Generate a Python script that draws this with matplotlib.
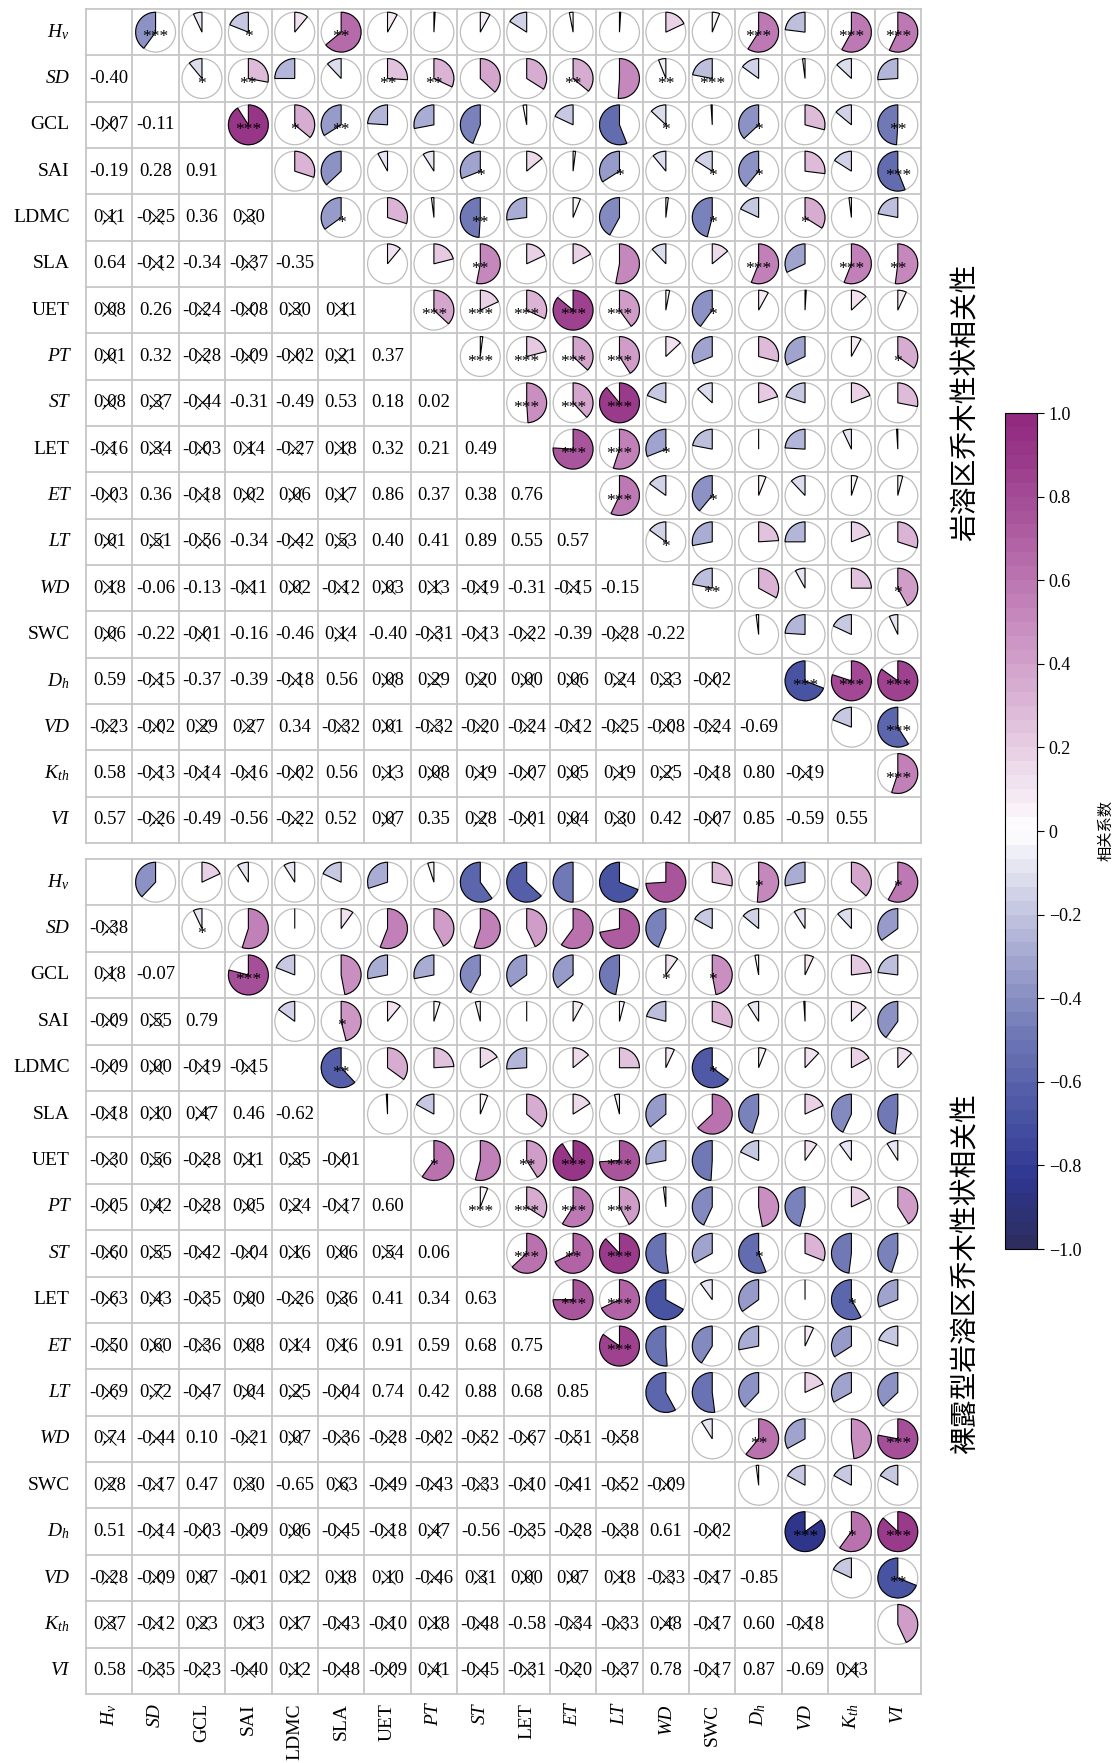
import numpy as np
import matplotlib
matplotlib.use('Agg')
import matplotlib.pyplot as plt
from matplotlib.colors import LinearSegmentedColormap, Normalize
from matplotlib.cm import ScalarMappable
from matplotlib.patches import Wedge, Circle

plt.rcParams['font.family'] = ['Liberation Serif', 'Noto Sans CJK SC']
plt.rcParams['mathtext.fontset'] = 'custom'
plt.rcParams['mathtext.rm'] = 'Liberation Serif'
plt.rcParams['mathtext.it'] = 'Liberation Serif:italic'

# 性状名称
traits = ['Hv', 'SD', 'GCL', 'SAI', 'LDMC', 'SLA', 'UET', 'PT', 'ST', 'LET',
          'ET', 'LT', 'WD', 'SWC', 'Dh', 'VD', 'Kth', 'VI']
trait_labels = {'Hv': r'$H_v$', 'Dh': r'$D_h$', 'Kth': r'$K_{th}$'}
italic_traits = ['SD', 'PT', 'ST', 'ET', 'LT', 'WD', 'VD', 'VI']

# 岩溶区 相关系数（下三角，按行）
corr_a = [
    [],
    [-0.40],
    [-0.07, -0.11],
    [-0.19, 0.28, 0.91],
    [0.11, -0.25, 0.36, 0.30],
    [0.64, -0.12, -0.34, -0.37, -0.35],
    [0.08, 0.26, -0.24, -0.08, 0.30, 0.11],
    [0.01, 0.32, -0.28, -0.09, -0.02, 0.21, 0.37],
    [0.08, 0.37, -0.44, -0.31, -0.49, 0.53, 0.18, 0.02],
    [-0.16, 0.34, -0.03, 0.14, -0.27, 0.18, 0.32, 0.21, 0.49],
    [-0.03, 0.36, -0.18, 0.02, 0.06, 0.17, 0.86, 0.37, 0.38, 0.76],
    [0.01, 0.51, -0.56, -0.34, -0.42, 0.53, 0.40, 0.41, 0.89, 0.55, 0.57],
    [0.18, -0.06, -0.13, -0.11, 0.02, -0.12, 0.03, 0.13, -0.19, -0.31, -0.15, -0.15],
    [0.06, -0.22, -0.01, -0.16, -0.46, 0.14, -0.40, -0.31, -0.13, -0.22, -0.39, -0.28, -0.22],
    [0.59, -0.15, -0.37, -0.39, -0.18, 0.56, 0.08, 0.29, 0.20, 0.00, 0.06, 0.24, 0.33, -0.02],
    [-0.23, -0.02, 0.29, 0.27, 0.34, -0.32, 0.01, -0.32, -0.20, -0.24, -0.12, -0.25, -0.08, -0.24, -0.69],
    [0.58, -0.13, -0.14, -0.16, -0.02, 0.56, 0.13, 0.08, 0.19, -0.07, 0.05, 0.19, 0.25, -0.18, 0.80, -0.19],
    [0.57, -0.26, -0.49, -0.56, -0.22, 0.52, 0.07, 0.35, 0.28, -0.01, 0.04, 0.30, 0.42, -0.07, 0.85, -0.59, 0.55],
]

# 岩溶区 显著性（上三角，按行，第 i 行对应列 i+1..17）
stars_a = [
    ['***', '', '*', '', '**', '', '', '', '', '', '', '', '', '***', '', '***', '***'],
    ['*', '**', '', '', '**', '**', '', '', '**', '', '**', '***', '', '', '', ''],
    ['***', '*', '**', '', '', '', '', '', '', '*', '', '*', '', '', '**'],
    ['', '', '', '', '*', '', '', '*', '', '*', '*', '', '', '***'],
    ['*', '', '', '**', '', '', '', '', '*', '', '*', '', ''],
    ['', '', '**', '', '', '', '', '', '***', '', '***', '**'],
    ['***', '***', '***', '***', '***', '', '*', '', '', '', ''],
    ['***', '***', '***', '***', '', '', '', '', '', '*'],
    ['***', '***', '***', '', '', '', '', '', ''],
    ['***', '***', '*', '', '', '', '', ''],
    ['***', '', '*', '', '', '', ''],
    ['*', '', '', '', '', ''],
    ['**', '', '', '', '*'],
    ['', '', '', ''],
    ['***', '***', '***'],
    ['', '***'],
    ['***'],
]

# 裸露型岩溶区 相关系数（下三角，按行）
corr_b = [
    [],
    [-0.38],
    [0.18, -0.07],
    [-0.09, 0.55, 0.79],
    [-0.09, 0.00, -0.19, -0.15],
    [-0.18, 0.10, 0.47, 0.46, -0.62],
    [-0.30, 0.56, -0.28, 0.11, 0.35, -0.01],
    [-0.05, 0.42, -0.28, 0.05, 0.24, -0.17, 0.60],
    [-0.60, 0.55, -0.42, -0.04, 0.16, 0.06, 0.54, 0.06],
    [-0.63, 0.43, -0.35, 0.00, -0.26, 0.36, 0.41, 0.34, 0.63],
    [-0.50, 0.60, -0.36, 0.08, 0.14, 0.16, 0.91, 0.59, 0.68, 0.75],
    [-0.69, 0.72, -0.47, 0.04, 0.25, -0.04, 0.74, 0.42, 0.88, 0.68, 0.85],
    [0.74, -0.44, 0.10, -0.21, 0.07, -0.36, -0.28, -0.02, -0.52, -0.67, -0.51, -0.58],
    [0.28, -0.17, 0.47, 0.30, -0.65, 0.63, -0.49, -0.43, -0.33, -0.10, -0.41, -0.52, -0.09],
    [0.51, -0.14, -0.03, -0.09, 0.06, -0.45, -0.18, 0.47, -0.56, -0.35, -0.28, -0.38, 0.61, -0.02],
    [-0.28, -0.09, 0.07, -0.01, 0.12, 0.18, 0.10, -0.46, 0.31, 0.00, 0.07, 0.18, -0.33, -0.17, -0.85],
    [0.37, -0.12, 0.23, 0.13, 0.17, -0.43, -0.10, 0.18, -0.48, -0.58, -0.34, -0.33, 0.48, -0.17, 0.60, -0.18],
    [0.58, -0.35, -0.23, -0.40, 0.12, -0.48, -0.09, 0.41, -0.45, -0.31, -0.20, -0.37, 0.78, -0.17, 0.87, -0.69, 0.43],
]

# 裸露型岩溶区 显著性（上三角）
stars_b = [
    ['', '', '', '', '', '', '', '', '', '', '', '', '', '*', '', '', '*'],
    ['*', '', '', '', '', '', '', '', '', '', '', '', '', '', '', ''],
    ['***', '', '', '', '', '', '', '', '', '*', '*', '', '', '', ''],
    ['', '*', '', '', '', '', '', '', '', '', '', '', '', ''],
    ['**', '', '', '', '', '', '', '', '*', '', '', '', ''],
    ['', '', '', '', '', '', '', '', '', '', '', ''],
    ['*', '', '**', '***', '***', '', '', '', '', '', ''],
    ['***', '***', '***', '***', '', '', '', '', '', ''],
    ['***', '**', '***', '', '', '*', '', '', ''],
    ['***', '***', '', '', '', '', '*', ''],
    ['***', '', '', '', '', '', ''],
    ['', '', '', '', '', ''],
    ['', '**', '', '', '***'],
    ['', '', '', ''],
    ['***', '*', '***'],
    ['', '**'],
    [''],
]

panel_titles = ['岩溶区乔木性状相关性', '裸露型岩溶区乔木性状相关性']
cbar_ticks = [-1.0, -0.8, -0.6, -0.4, -0.2, 0.0, 0.2, 0.4, 0.6, 0.8, 1.0]
cbar_ticklabels = ['\u22121.0', '\u22120.8', '\u22120.6', '\u22120.4', '\u22120.2', '0',
                   '0.2', '0.4', '0.6', '0.8', '1.0']
cbar_label = '相关系数'

# 配色
cmap = LinearSegmentedColormap.from_list('corr', [
    (0.000, '#2D2E5F'), (0.075, '#2E3690'), (0.15, '#4752A2'), (0.25, '#6E77B5'),
    (0.35, '#A5A9D1'), (0.45, '#E0E1EF'), (0.50, '#FFFFFF'), (0.55, '#F3E6F1'),
    (0.65, '#DDB8D7'), (0.75, '#C88DC0'), (0.85, '#B062A4'), (0.95, '#9A3A8B'),
    (1.000, '#922A80')], N=60)
norm = Normalize(-1, 1)

W, H = 1118, 1763
fig = plt.figure(figsize=(W / 100, H / 100), dpi=100)


def px_axes(x0, y0, x1, y1):
    return fig.add_axes([x0 / W, 1 - y1 / H, (x1 - x0) / W, (y1 - y0) / H])


def full_matrix(rows):
    n = len(traits)
    m = np.eye(n)
    for i, row in enumerate(rows):
        for j, v in enumerate(row):
            m[i, j] = v
            m[j, i] = v
    return m


def full_stars(rows):
    n = len(traits)
    s = [['' for _ in range(n)] for _ in range(n)]
    for i, row in enumerate(rows):
        for k, v in enumerate(row):
            j = i + 1 + k
            s[i][j] = v
            s[j][i] = v
    return s


def label_kw(name):
    if name in italic_traits:
        return dict(fontstyle='italic')
    return {}


def draw_panel(ax, rows, star_rows, col_labels):
    n = len(traits)
    m = full_matrix(rows)
    s = full_stars(star_rows)
    ax.set_xlim(0, n)
    ax.set_ylim(0, n)
    ax.axis('off')

    for k in range(n + 1):
        ax.plot([0, n], [k, k], color='#C6C6C6', lw=1.3, clip_on=False, zorder=1)
        ax.plot([k, k], [0, n], color='#C6C6C6', lw=1.3, clip_on=False, zorder=1)

    for i in range(n):
        cy = n - i - 0.5
        name = traits[i]
        ax.text(-0.35, cy, trait_labels.get(name, name), ha='right', va='center',
                fontsize=14, **label_kw(name))
        for j in range(n):
            cx = j + 0.5
            r = m[i, j]
            if i > j:
                ax.text(cx, cy, f'{r:.2f}', ha='center', va='center', fontsize=13.5, zorder=3)
                if s[i][j] == '':
                    ax.plot(cx, cy + 0.02, marker='x', ms=10.5, mew=0.7, color='black', zorder=4)
            elif i < j:
                rad = 0.43
                ax.add_patch(Circle((cx, cy), rad, fc='none', ec='#BDBDBD', lw=0.9, zorder=2))
                if r >= 0:
                    t1, t2 = 90 - 360 * r, 90
                else:
                    t1, t2 = 90, 90 - 360 * r
                ax.add_patch(Wedge((cx, cy), rad, t1, t2, fc=cmap(norm(r)),
                                   ec='black', lw=0.8, zorder=3))
                if s[i][j]:
                    ax.text(cx, cy - 0.11, s[i][j], ha='center', va='center',
                            fontsize=12.5, zorder=5)

    if col_labels:
        for j, name in enumerate(traits):
            ax.text(j + 0.5, -0.2, trait_labels.get(name, name), rotation=90,
                    ha='center', va='top', fontsize=14, **label_kw(name))


ax_top = px_axes(86, 9, 921, 843)
ax_bot = px_axes(86, 859, 921, 1694)
draw_panel(ax_top, corr_a, stars_a, False)
draw_panel(ax_bot, corr_b, stars_b, True)

fig.text(966 / W, 1 - 402 / H, panel_titles[0], rotation=90, ha='center', va='center',
         fontsize=20, family='Noto Sans CJK SC')
fig.text(966 / W, 1 - 1274 / H, panel_titles[1], rotation=90, ha='center', va='center',
         fontsize=20, family='Noto Sans CJK SC')

# 色标
cax = px_axes(1005, 413, 1037, 1249)
sm = ScalarMappable(norm=norm, cmap=cmap)
cb = fig.colorbar(sm, cax=cax, ticks=cbar_ticks)
cb.ax.set_yticklabels(cbar_ticklabels)
cb.ax.tick_params(labelsize=13, length=5, width=0.8)
cb.outline.set_linewidth(0.8)
fig.text(1106 / W, 1 - 830 / H, cbar_label, rotation=90, ha='center', va='center',
         fontsize=11, family='Noto Sans CJK SC')

fig.savefig('out.png', dpi=100)
